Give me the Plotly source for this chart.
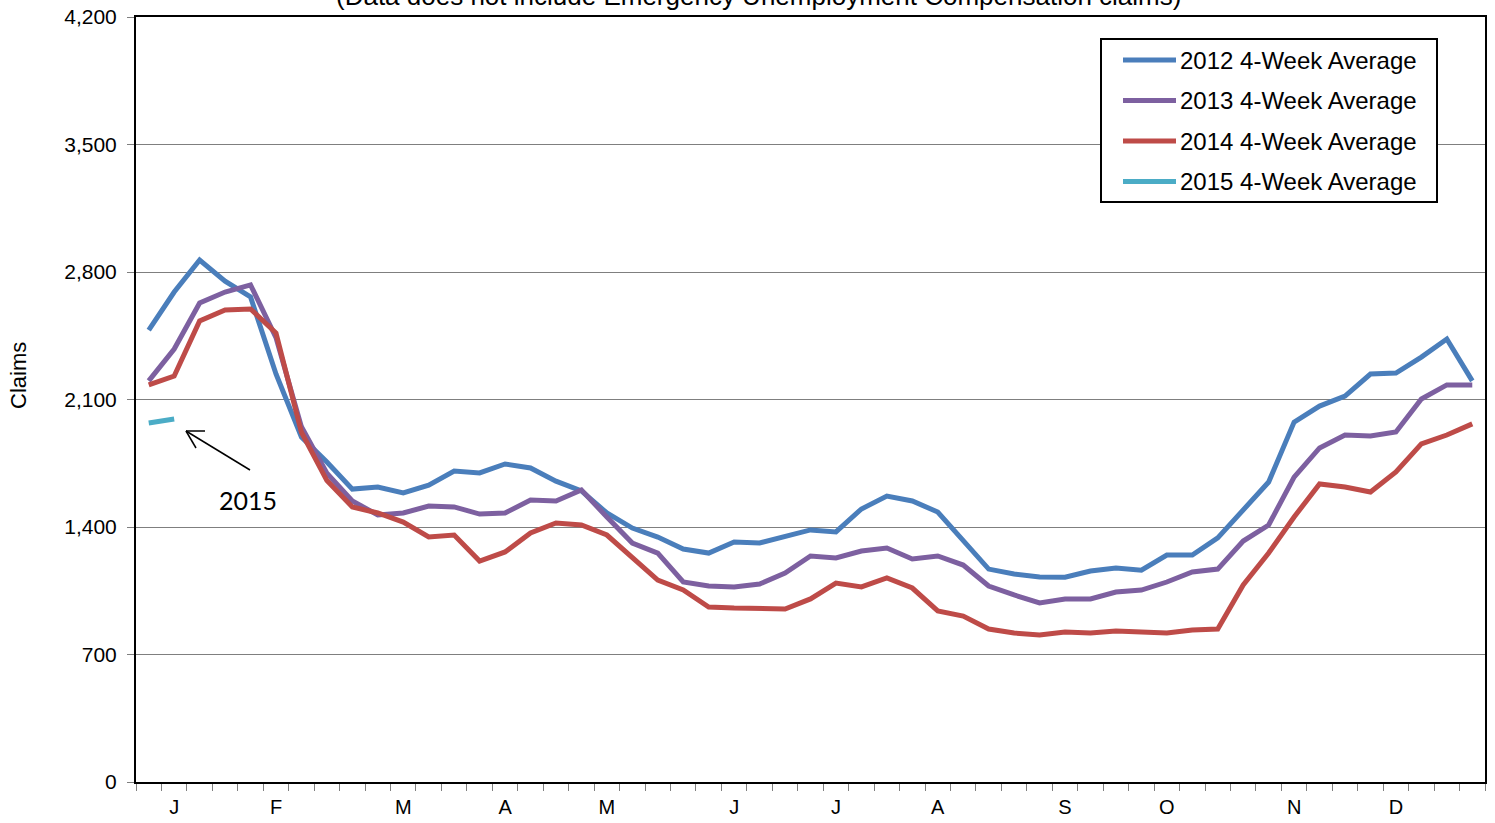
import plotly.graph_objects as go

# Week-of-year positions (53 weekly slots) and month labels
weeks = list(range(1, 54))
month_weeks = [2, 6, 11, 15, 19, 24, 28, 32, 37, 41, 46, 50]
month_labels = ["J", "F", "M", "A", "M", "J", "J", "A", "S", "O", "N", "D"]

# 4-week average initial claims, by year
avg_2012 = [2481, 2690, 2866, 2750, 2663, 2240, 1894, 1757, 1608, 1619,
            1587, 1630, 1707, 1697, 1746, 1724, 1652, 1598, 1477, 1394,
            1345, 1279, 1257, 1318, 1312, 1345, 1384, 1373, 1499, 1570,
            1543, 1482, 1329, 1169, 1142, 1126, 1124, 1158, 1175, 1163,
            1246, 1246, 1340, 1493, 1647, 1976, 2064, 2119, 2240, 2245,
            2333, 2432, 2202]
avg_2013 = [2202, 2377, 2630, 2690, 2729, 2440, 1950, 1695, 1543, 1466,
            1477, 1515, 1510, 1471, 1477, 1548, 1543, 1603, 1455, 1312,
            1257, 1098, 1076, 1071, 1087, 1147, 1241, 1230, 1268, 1285,
            1224, 1241, 1191, 1076, 1027, 983, 1005, 1005, 1043, 1054,
            1098, 1153, 1169, 1323, 1411, 1674, 1834, 1905, 1900, 1922,
            2103, 2180, 2180]
avg_2014 = [2180, 2229, 2531, 2591, 2597, 2465, 1920, 1655, 1510, 1477,
            1427, 1345, 1356, 1213, 1263, 1367, 1422, 1411, 1356, 1230,
            1109, 1054, 961, 955, 950, 950, 1005, 1092, 1071, 1120,
            1065, 939, 911, 840, 818, 807, 824, 818, 829, 824,
            818, 834, 840, 1082, 1257, 1455, 1636, 1620, 1592, 1702,
            1856, 1905, 1966]
avg_2015 = [1971, 1993]

series = [
    ("2012 4-Week Average", avg_2012, "#4A7EBB"),
    ("2013 4-Week Average", avg_2013, "#7D60A0"),
    ("2014 4-Week Average", avg_2014, "#BE4B48"),
    ("2015 4-Week Average", avg_2015, "#4BACC6"),
]

W, H = 1495, 823
L, R, T, B = 136, 10, 17, 41
PW, PH = W - L - R, H - T - B
Y_MAX = 4200
SLOT = PW / 53.0


def px_x(px):
    return (px - L) / PW


def px_y(py):
    return (H - B - py) / PH


def data_x(px):
    return 0.5 + (px - L) / SLOT


def data_y(py):
    return (H - B - py) * Y_MAX / PH


TEXT_FONT = "Liberation Sans, Arial, sans-serif"

fig = go.Figure()
for name, vals, color in series:
    fig.add_trace(go.Scatter(
        x=weeks[:len(vals)], y=vals, name=name, mode="lines",
        line=dict(color=color, width=5), showlegend=False,
    ))

# Boxed legend
shapes = [dict(type="rect", xref="paper", yref="paper",
               x0=px_x(1101), x1=px_x(1437), y0=px_y(202), y1=px_y(39),
               line=dict(color="black", width=2), fillcolor="white", layer="above")]
annotations = []
for k, (name, vals, color) in enumerate(series):
    ry = px_y(60 + 40.5 * k)
    shapes.append(dict(type="line", xref="paper", yref="paper",
                       x0=px_x(1123), x1=px_x(1176), y0=ry, y1=ry,
                       line=dict(color=color, width=5), layer="above"))
    annotations.append(dict(xref="paper", yref="paper", x=px_x(1178), y=ry,
                            text=name, showarrow=False, xanchor="left", yanchor="middle",
                            font=dict(family=TEXT_FONT, size=24, color="black")))

# Subtitle along the top edge
annotations.append(dict(xref="paper", yref="paper", x=px_x(758), y=px_y(13),
                        text="(Data does not include Emergency Unemployment Compensation claims)",
                        showarrow=False, xanchor="center", yanchor="bottom",
                        font=dict(family=TEXT_FONT, size=26, color="black")))

# Y-axis caption
annotations.append(dict(xref="paper", yref="paper", x=px_x(18), y=px_y(376),
                        text="Claims", textangle=-90, showarrow=False,
                        xanchor="center", yanchor="middle",
                        font=dict(family=TEXT_FONT, size=22, color="black")))

# Open arrow pointing at the 2015 series: shaft and two barbs, sized in pixels
head_x, head_y = data_x(186), data_y(431)
for dx, dy in [(64, -39), (19, 0), (10, -17)]:
    shapes.append(dict(type="line", xref="x", yref="y",
                       xsizemode="pixel", ysizemode="pixel",
                       xanchor=head_x, yanchor=head_y,
                       x0=0, y0=0, x1=dx, y1=dy,
                       line=dict(color="black", width=1.5)))
annotations.append(dict(x=data_x(248), y=data_y(500),
                        xref="x", yref="y", text="2015", showarrow=False,
                        font=dict(family="Lato, Open Sans, sans-serif", size=25, color="black")))

fig.update_layout(
    width=W, height=H,
    margin=dict(l=L, r=R, t=T, b=B, autoexpand=False),
    paper_bgcolor="white", plot_bgcolor="white",
    shapes=shapes, annotations=annotations,
    showlegend=False,
)
fig.update_xaxes(
    range=[0.5, 53.5], tickmode="array", tickvals=month_weeks, ticktext=month_labels,
    ticks="", showgrid=False, zeroline=False,
    tickfont=dict(family=TEXT_FONT, size=20, color="black"), ticklabelstandoff=6,
    showline=True, linecolor="black", linewidth=2, mirror=True,
    minor=dict(tickmode="linear", tick0=0.5, dtick=1, ticks="outside",
               ticklen=7, tickcolor="#7f7f7f", tickwidth=1, showgrid=False),
)
fig.update_yaxes(
    range=[0, Y_MAX], tickmode="linear", tick0=0, dtick=700, tickformat=",",
    showgrid=True, gridcolor="#7f7f7f", gridwidth=1, zeroline=False,
    ticks="outside", ticklen=7, tickcolor="#7f7f7f",
    tickfont=dict(family=TEXT_FONT, size=21, color="black"),
    ticklabelstandoff=6,
    showline=True, linecolor="black", linewidth=2, mirror=True,
    automargin=False,
)

fig.write_html("out.html")
